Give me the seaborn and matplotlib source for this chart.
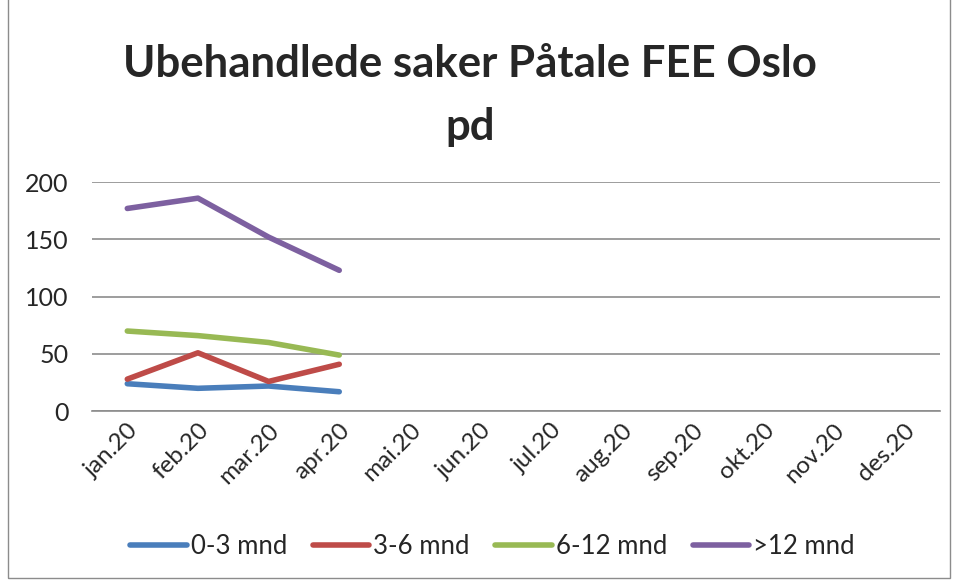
import pandas as pd
import matplotlib.pyplot as plt
import seaborn as sns
from matplotlib.patches import Rectangle

months = ['jan.20', 'feb.20', 'mar.20', 'apr.20', 'mai.20', 'jun.20',
          'jul.20', 'aug.20', 'sep.20', 'okt.20', 'nov.20', 'des.20']
series = ['0-3 mnd', '3-6 mnd', '6-12 mnd', '>12 mnd']
v_0_3 = [24, 20, 22, 17]
v_3_6 = [28, 51, 26, 41]
v_6_12 = [70, 66, 60, 49]
v_12 = [177, 186, 152, 123]
colors = ['#4A7EBB', '#BE4B48', '#98B954', '#7D60A0']

rows = []
for name, vals in zip(series, [v_0_3, v_3_6, v_6_12, v_12]):
    for i, v in enumerate(vals):
        rows.append({'month': i, 'serie': name, 'value': v})
df = pd.DataFrame(rows)

sns.set_style("white")
plt.rcParams['font.family'] = ['Lato', 'DejaVu Sans']

fig = plt.figure(figsize=(9.58, 5.8), dpi=100)
ax = fig.add_axes([0.096, 0.291, 0.885, 0.395])

sns.lineplot(data=df, x='month', y='value', hue='serie', hue_order=series,
             palette=colors, linewidth=4, ax=ax, legend=True)

ax.set_xlim(-0.5, len(months) - 0.5)
ax.set_ylim(0, 200)
ax.set_yticks([0, 50, 100, 150, 200])
ax.set_xticks(range(len(months)))
ax.set_xticklabels(months, rotation=45, ha='right', rotation_mode='anchor', fontsize=17.5)
ax.tick_params(axis='y', labelsize=18, length=0, pad=17)
ax.tick_params(axis='x', length=0, pad=6)
ax.yaxis.grid(True, color='#8c8c8c', linewidth=1.2)
for s in ['left', 'right', 'top']:
    ax.spines[s].set_visible(False)
ax.spines['bottom'].set_color('#8c8c8c')
ax.spines['bottom'].set_linewidth(1.2)
ax.set_xlabel('')
ax.set_ylabel('')

fig.text(0.491, 0.836, 'Ubehandlede saker Påtale FEE Oslo\npd', ha='center', va='center',
         fontsize=31.5, fontweight='bold', linespacing=1.7)

handles, labels = ax.get_legend_handles_labels()
ax.legend(handles, labels, loc='center', bbox_to_anchor=(0.514, 0.057),
          bbox_transform=fig.transFigure, ncol=4, frameon=False, fontsize=18.5,
          handlelength=2.2, handletextpad=0.15, columnspacing=1.0)

fig.patches.append(Rectangle((0.008, 0.004), 0.984, 1.2, transform=fig.transFigure,
                             fill=False, edgecolor='#8c8c8c', linewidth=1))

fig.savefig('out.png', dpi=100)
